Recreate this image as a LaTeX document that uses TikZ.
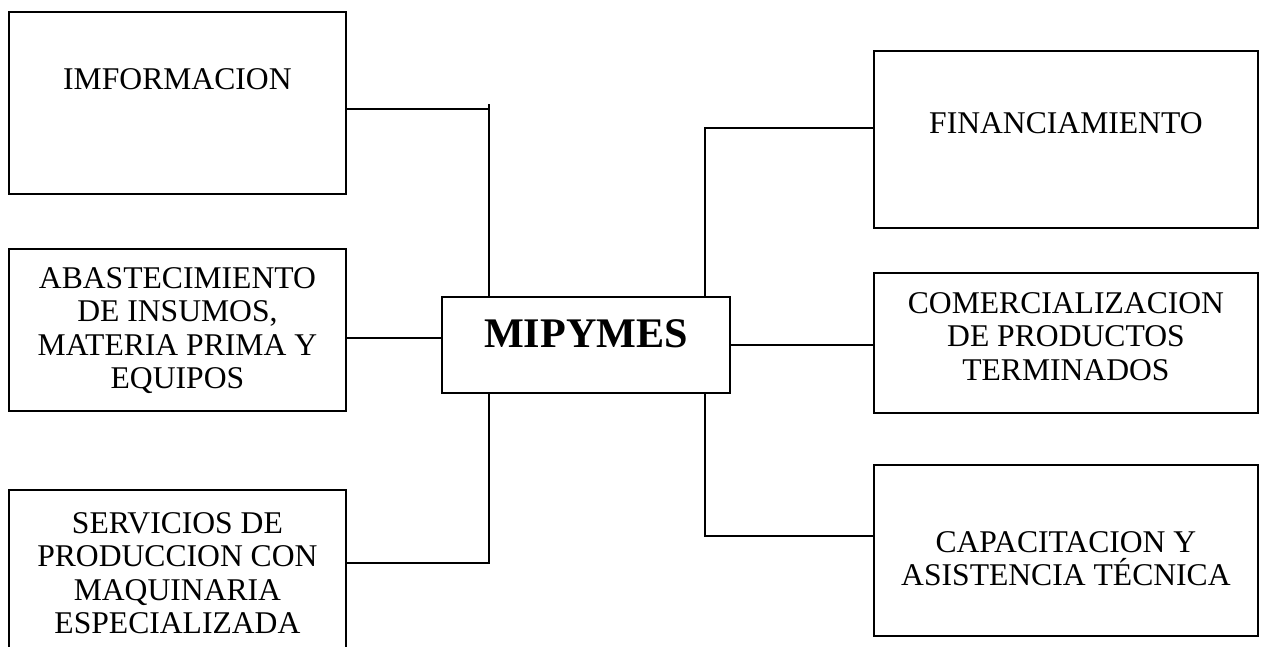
\documentclass[tikz,border=0pt]{standalone}
\usepackage{fontspec}
\setmainfont{Liberation Serif}
\usepackage{tikz}
\usetikzlibrary{positioning}
\tikzstyle{caja} = [rectangle, draw=black, line width=1.1pt, inner sep=0pt, anchor=north west, font=\fontsize{18}{18.8}\selectfont]
\tikzstyle{central} = [caja, font=\fontsize{24}{26}\selectfont\bfseries]
\tikzstyle{linea} = [draw=black, line width=1.1pt]
\newcommand{\textocaja}[4]{\parbox[c][#1][t]{#2}{\centering\rule{0pt}{#3}#4}}

\begin{document}
\begin{tikzpicture}[x=0.02cm, y=-0.02cm]
\useasboundingbox (0,0) rectangle (1264,646);
\clip (0,0) rectangle (1264,646);

\node (info) [caja] at (8,11) {\textocaja{3.64cm}{6.74cm}{1.56cm}{IMFORMACION}};
\node (abast) [caja] at (8,248) {\textocaja{3.24cm}{6.74cm}{0.80cm}{ABASTECIMIENTO\\DE INSUMOS,\\MATERIA PRIMA Y\\EQUIPOS}};
\node (serv) [caja] at (8,489) {\textocaja{4cm}{6.74cm}{0.88cm}{SERVICIOS DE\\PRODUCCION CON\\MAQUINARIA\\ESPECIALIZADA}};
\node (mipymes) [central] at (441,296) {\textocaja{1.92cm}{5.76cm}{1.02cm}{MIPYMES}};
\node (fin) [caja] at (873,50) {\textocaja{3.54cm}{7.68cm}{1.66cm}{FINANCIAMIENTO}};
\node (comer) [caja] at (873,272) {\textocaja{2.80cm}{7.68cm}{0.82cm}{COMERCIALIZACION\\DE PRODUCTOS\\TERMINADOS}};
\node (capac) [caja] at (873,464) {\textocaja{3.42cm}{7.68cm}{1.76cm}{CAPACITACION Y\\ASISTENCIA TÉCNICA}};

\coordinate (izqArriba) at (489,104);
\coordinate (izqAbajo) at (489,563);
\coordinate (derArriba) at (705,128);
\coordinate (derAbajo) at (705,536);

\draw[linea] ([yshift=-0.12cm]info.east) -- ([yshift=-0.12cm]info.east -| izqArriba);
\draw[linea] (izqArriba) -- (izqArriba |- mipymes.north);
\draw[linea] ([yshift=0.14cm]mipymes.west) -- ([yshift=0.14cm]mipymes.west -| abast.east);
\draw[linea] (izqAbajo |- mipymes.south) -- (izqAbajo) -- (izqAbajo -| serv.east);
\draw[linea] (derArriba -| fin.west) -- (derArriba) -- (derArriba |- mipymes.north);
\draw[linea] (mipymes.east) -- (mipymes.east -| comer.west);
\draw[linea] (derAbajo |- mipymes.south) -- (derAbajo) -- (derAbajo -| capac.west);
\end{tikzpicture}
\end{document}
